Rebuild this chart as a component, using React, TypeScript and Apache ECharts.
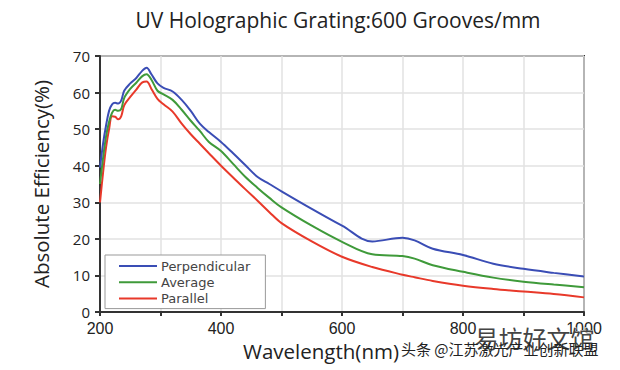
import React, { useEffect, useRef } from "react";
import * as echarts from "echarts";

const wavelengths = [200, 205, 210, 215, 220, 225, 230, 235, 240, 250, 260, 270, 277, 285, 295, 305, 320, 335, 350, 365, 380, 400, 420, 440, 460, 480, 500, 550, 600, 650, 700, 720, 750, 800, 850, 900, 950, 1000];
const perpendicular = [39.5, 46, 51, 55, 56.8, 57.2, 57, 57.8, 60.5, 62.5, 64, 66, 66.8, 65, 62.5, 61.3, 60.3, 58, 55, 51.5, 49.2, 46.5, 43.4, 40.2, 37, 35, 33, 28.2, 23.6, 19.3, 20.3, 19.6, 17.3, 15.6, 13.2, 11.8, 10.7, 9.7];
const average = [35, 42, 48, 52, 54.5, 55.3, 55, 55.5, 58.5, 61, 62.7, 64.5, 65, 63.5, 60.5, 59.5, 58, 55.3, 52.3, 49.5, 46.5, 44, 40.5, 37, 34, 31.2, 28.6, 23.6, 19.2, 15.8, 15.3, 14.6, 12.8, 11, 9.4, 8.3, 7.5, 6.8];
const parallel = [30, 38, 45, 50, 53.5, 53.4, 52.7, 53.5, 56.5, 58.8, 60.8, 62.8, 63, 61, 58.3, 56.8, 54.8, 51.5, 48.6, 46, 43.4, 40, 36.8, 33.6, 30.5, 27.3, 24.3, 19.3, 15.1, 12.3, 10.2, 9.5, 8.5, 7.2, 6.3, 5.6, 4.9, 4.0];
const seriesNames = ["Perpendicular", "Average", "Parallel"];
const seriesColors = ["#3a4db5", "#3f9a3a", "#e8392a"];
const yTicks = [0, 10, 20, 30, 40, 50, 60, 70];
const xLabelValues = [200, 400, 600, 800, 1000];

export default function App() {
  const ref = useRef<HTMLDivElement>(null);
  useEffect(() => {
    if (!ref.current) return;
    const chart = echarts.init(ref.current, undefined, { renderer: "svg" });
    const datasets = [perpendicular, average, parallel];
    chart.setOption({
      animation: false,
      backgroundColor: "#ffffff",
      title: {
        text: "UV Holographic Grating:600 Grooves/mm",
        left: 338,
        textAlign: "center",
        top: 9,
        padding: 0,
        textStyle: { fontFamily: "Open Sans", fontSize: 21, fontWeight: "normal", color: "#222" },
      },
      grid: { left: 100, right: 36, top: 56, bottom: 58, show: true, borderColor: "#333", borderWidth: 2, backgroundColor: "transparent" },
      legend: {
        data: seriesNames,
        orient: "vertical",
        left: 105,
        top: 255,
        padding: [3, 15, 2, 14],
        itemGap: 0.3,
        itemWidth: 38,
        itemHeight: 2,
        icon: "rect",
        backgroundColor: "#fff",
        borderColor: "#999",
        borderWidth: 1,
        borderRadius: 0,
        textStyle: { fontFamily: "DejaVu Sans", fontSize: 13, color: "#444", lineHeight: 16, padding: [0, 0, 0, -1] },
      },
      xAxis: {
        type: "value",
        min: 200,
        max: 1000,
        interval: 100,
        name: "Wavelength(nm)",
        nameLocation: "middle",
        nameGap: 28,
        nameTextStyle: { fontFamily: "Open Sans", fontSize: 20.5, color: "#222", padding: [0, 42, 0, 0] },
        axisLine: { show: true, lineStyle: { color: "#333", width: 2 } },
        axisTick: { show: true, length: 4, lineStyle: { color: "#333", width: 2 } },
        axisLabel: {
          fontFamily: "Liberation Sans",
          fontSize: 16,
          color: "#222",
          margin: 8,
          formatter: (v: number) => (xLabelValues.includes(v) ? String(v) : ""),
        },
        splitLine: { show: true, lineStyle: { color: "#e2e2e2", width: 1.5 } },
      },
      yAxis: {
        type: "value",
        min: yTicks[0],
        max: yTicks[yTicks.length - 1],
        interval: 10,
        name: "Absolute Efficiency(%)",
        nameLocation: "middle",
        nameGap: 49,
        nameTextStyle: { fontFamily: "Open Sans", fontSize: 20.5, color: "#222" },
        axisLine: { show: true, lineStyle: { color: "#333", width: 2 } },
        axisTick: { show: true, length: 5, lineStyle: { color: "#333", width: 2 } },
        axisLabel: { fontFamily: "Open Sans", fontSize: 15, color: "#222", margin: 10 },
        splitLine: { show: true, lineStyle: { color: "#e2e2e2", width: 1.5 } },
      },
      series: seriesNames.map((name, i) => ({
        name,
        type: "line",
        smooth: 0.35,
        showSymbol: false,
        symbol: "none",
        data: wavelengths.map((w, j) => [w, datasets[i][j]]),
        lineStyle: { color: seriesColors[i], width: 2 },
        itemStyle: { color: seriesColors[i] },
        z: 3 - i,
      })),
      graphic: [
        {
          type: "text",
          left: 474,
          top: 325,
          z: 100,
          style: { text: "易坊好文馆", font: '24px "Noto Sans CJK SC"', fill: "#444", stroke: "#fff", lineWidth: 1 },
        },
        {
          type: "text",
          left: 401,
          top: 341,
          z: 100,
          style: { text: "头条 @江苏激光产业创新联盟", font: '15px "Noto Sans CJK SC"', fill: "#222" },
        },
      ],
    });
    return () => chart.dispose();
  }, []);
  return <div ref={ref} style={{ width: 620, height: 370, position: "absolute", left: 0, top: 0 }} />;
}
